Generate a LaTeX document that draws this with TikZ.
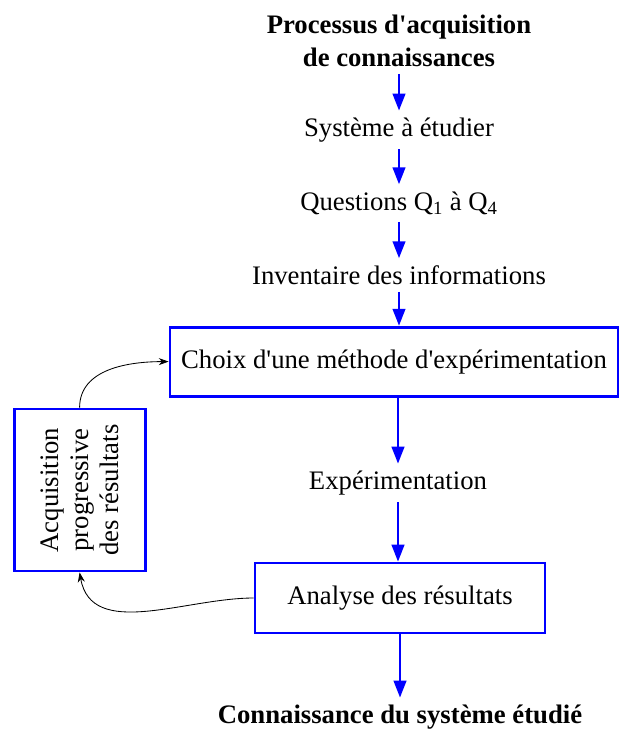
\documentclass[tikz,border=0pt]{standalone}
\usepackage{fontspec}
\setmainfont{Liberation Serif}
\usetikzlibrary{arrows.meta,positioning}

\begin{document}
\begin{tikzpicture}[
  font=\fontsize{19}{23}\selectfont,
  txt/.style={align=center, inner xsep=2pt, inner ysep=5pt},
  box/.style={draw=blue, line width=2pt, align=center, fill=white, inner sep=0pt},
  arrow/.style={-{Triangle[length=12pt, width=9pt]}, line width=1.5pt, draw=blue},
  loop/.style={-{Stealth[length=7pt, width=5pt]}, line width=0.6pt, draw=black}
]
\useasboundingbox (0,0) rectangle (15.55,-18.275);

\node[txt, font=\fontsize{19}{23}\selectfont\bfseries] (titre) at (9.975,-1.025)
  {Processus d\textquotesingle acquisition\\de connaissances};
\node[txt] (sys) at (9.975,-3.25) {Système à étudier};
\node[txt] (quest) at (9.975,-5.075) {Questions Q\textsubscript{1} à Q\textsubscript{4}};
\node[txt] (inv) at (9.975,-6.875) {Inventaire des informations};

\node[box, minimum width=11.2cm, minimum height=1.725cm] (choix) at (9.85,-9.04)
  {Choix d\textquotesingle une méthode d\textquotesingle expérimentation};
\node[txt] (exper) at (9.95,-12.075) {Expérimentation};
\node[box, minimum width=7.25cm, minimum height=1.75cm] (analyse) at (10.0,-14.95)
  {Analyse des résultats};
\node[txt, font=\fontsize{19}{23}\selectfont\bfseries] (concl) at (10.0,-17.925)
  {Connaissance du système étudié};

\node[box, rotate=90, minimum width=4.05cm, minimum height=3.275cm, font=\fontsize{19}{21.5}\selectfont] (acq) at (1.99,-12.25)
  {Acquisition\\progressive\\des résultats};

\draw[arrow] (titre.south) -- (sys.north);
\draw[arrow] (sys.south) -- (quest.north);
\draw[arrow] (quest.south) -- (inv.north);
\draw[arrow] (inv.south) -- (inv.south |- choix.north);
\draw[arrow] (choix.south -| exper) -- (exper.north);
\draw[arrow] (exper.south) -- (analyse.north -| exper);
\draw[arrow] (analyse.south) -- (concl.north);

% boucle de retour
\draw[loop] (acq.east) to[out=90, in=180] (choix.west);
\draw[loop] (analyse.west) to[out=180, in=-80] (acq.west);

\end{tikzpicture}
\end{document}
